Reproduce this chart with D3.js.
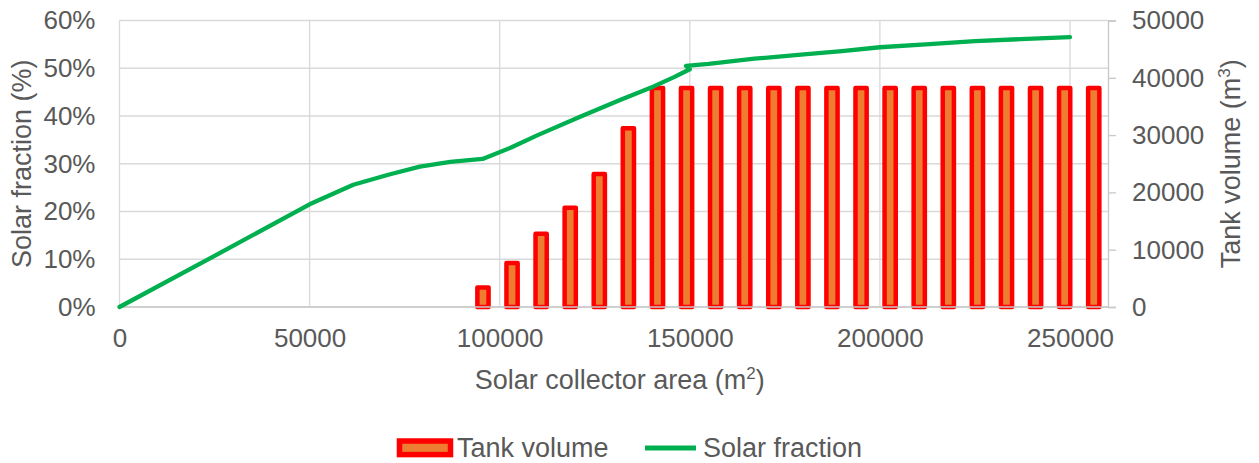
<!DOCTYPE html>
<html lang="en">
<head>
	<meta charset="UTF-8">
	<title>Solar fraction and tank volume</title>
	<script src="https://d3js.org/d3.v7.min.js"></script>
	<style>
		body{
			margin: 0;
			background: #fff;
			font-family: "Liberation Sans", Arial, sans-serif;
		}
		svg text{
			fill: #595959;
		}
	</style>
</head>
<body>
	<div id="chart"></div>
	<script>
		// solar fraction curve (collector area m2 -> %)
		var sfArea = [0, 25000, 50000, 61500, 70700, 79000, 87000, 95500, 103000, 110000, 121000, 131500, 140500, 146000, 150000, 149000, 155000, 167000, 180000, 190000, 200000, 212000, 225000, 237000, 250000];
		var sfValue = [0, 10.7, 21.5, 25.6, 27.7, 29.4, 30.4, 31.0, 33.4, 36.0, 39.8, 43.3, 46.2, 48.2, 49.8, 50.5, 50.9, 52.0, 52.9, 53.6, 54.4, 55.0, 55.7, 56.1, 56.5];

		// tank volume bars (collector area m2 -> m3)
		var tankArea = [95600, 103250, 110900, 118550, 126200, 133850, 141500, 149150, 156800, 164450, 172100, 179750, 187400, 195050, 202700, 210350, 218000, 225650, 233300, 240950, 248600, 256250];
		var tankVolume = [3400, 7700, 12800, 17300, 23200, 31200, 38200, 38200, 38200, 38200, 38200, 38200, 38200, 38200, 38200, 38200, 38200, 38200, 38200, 38200, 38200, 38200];

		var xTicks = [0, 50000, 100000, 150000, 200000, 250000];
		var yLeftTicks = [0, 10, 20, 30, 40, 50, 60];
		var yRightTicks = [0, 10000, 20000, 30000, 40000, 50000];

		var width = 1259, height = 463;
		var pLeft = 119.5, pRight = 1108, pTop = 20.5, pBottom = 307;
		var font = '"Liberation Sans", Arial, sans-serif';

		var svg = d3.select('#chart').append('svg')
			.attr('width', width)
			.attr('height', height);

		var x = d3.scaleLinear().domain([0, 260000]).range([pLeft, pRight]);
		var yL = d3.scaleLinear().domain([0, 60]).range([pBottom, pTop]);
		var yR = d3.scaleLinear().domain([0, 50000]).range([pBottom, pTop]);

		// gridlines
		svg.append('g').selectAll('line')
			.data(yLeftTicks).enter().append('line')
			.attr('x1', pLeft).attr('x2', pRight)
			.attr('y1', function(d){ return yL(d); })
			.attr('y2', function(d){ return yL(d); })
			.attr('stroke', '#d9d9d9').attr('stroke-width', 1.3);
		svg.append('g').selectAll('line')
			.data(xTicks).enter().append('line')
			.attr('x1', function(d){ return x(d); })
			.attr('x2', function(d){ return x(d); })
			.attr('y1', pTop).attr('y2', pBottom)
			.attr('stroke', '#d9d9d9').attr('stroke-width', 1.3);

		// bars
		var tank = tankArea.map(function(a, i){ return [a, tankVolume[i]]; });
		svg.append('g').selectAll('rect')
			.data(tank).enter().append('rect')
			.attr('x', function(d){ return x(d[0]) - 5.6; })
			.attr('width', 11.2)
			.attr('y', function(d){ return yR(d[1]); })
			.attr('height', function(d){ return yR(0) - yR(d[1]); })
			.attr('fill', '#ed7d31')
			.attr('stroke', '#ff0000')
			.attr('stroke-width', 4.5)
			.attr('stroke-linejoin', 'round');

		// bottom axis line and right axis
		svg.append('line')
			.attr('x1', pLeft).attr('x2', pRight)
			.attr('y1', pBottom).attr('y2', pBottom)
			.attr('stroke', '#c8c8c8').attr('stroke-width', 1.3);

		var rightAxis = d3.axisRight(yR).tickValues(yRightTicks).tickSize(8).tickPadding(16).tickFormat(d3.format('d'));
		var gR = svg.append('g').attr('transform', 'translate(' + pRight + ',0)').call(rightAxis);
		gR.select('.domain').attr('stroke', '#c8c8c8').attr('stroke-width', 1.3);
		gR.selectAll('.tick line').attr('stroke', '#c8c8c8').attr('stroke-width', 1.3);
		gR.selectAll('text').style('font-size', '26px').style('font-family', font).attr('fill', '#595959');

		var leftAxis = d3.axisLeft(yL).tickValues(yLeftTicks).tickSize(0).tickPadding(24).tickFormat(function(d){ return d + '%'; });
		var gL = svg.append('g').attr('transform', 'translate(' + pLeft + ',0)').call(leftAxis);
		gL.select('.domain').remove();
		gL.selectAll('text').style('font-size', '26px').style('font-family', font).attr('fill', '#595959');

		var bottomAxis = d3.axisBottom(x).tickValues(xTicks).tickSize(0).tickPadding(22).tickFormat(d3.format('d'));
		var gB = svg.append('g').attr('transform', 'translate(0,' + pBottom + ')').call(bottomAxis);
		gB.select('.domain').remove();
		gB.selectAll('text').style('font-size', '26px').style('font-family', font).attr('fill', '#595959');

		// solar fraction line
		var sf = sfArea.map(function(a, i){ return [a, sfValue[i]]; });
		var line = d3.line()
			.x(function(d){ return x(d[0]); })
			.y(function(d){ return yL(d[1]); });
		svg.append('path')
			.datum(sf)
			.attr('d', line)
			.attr('fill', 'none')
			.attr('stroke', '#00b050')
			.attr('stroke-width', 4.3)
			.attr('stroke-linejoin', 'round')
			.attr('stroke-linecap', 'round');

		// axis titles
		var xt = svg.append('text')
			.attr('x', (pLeft + pRight) / 2 + 6)
			.attr('y', 389)
			.attr('text-anchor', 'middle')
			.style('font-size', '27px');
		xt.append('tspan').text('Solar collector area (m');
		xt.append('tspan').attr('dy', -10).style('font-size', '17px').text('2');
		xt.append('tspan').attr('dy', 10).text(')');

		svg.append('text')
			.attr('transform', 'translate(31,' + ((pTop + pBottom) / 2) + ') rotate(-90)')
			.attr('text-anchor', 'middle')
			.style('font-size', '27px')
			.text('Solar fraction (%)');

		var rt = svg.append('text')
			.attr('transform', 'translate(1240,' + ((pTop + pBottom) / 2) + ') rotate(-90)')
			.attr('text-anchor', 'middle')
			.style('font-size', '27px');
		rt.append('tspan').text('Tank volume (m');
		rt.append('tspan').attr('dy', -10).style('font-size', '17px').text('3');
		rt.append('tspan').attr('dy', 10).text(')');

		// legend
		var lg = svg.append('g');
		lg.append('rect')
			.attr('x', 399.5).attr('y', 441).attr('width', 51).attr('height', 13.6)
			.attr('fill', '#ed7d31').attr('stroke', '#ff0000').attr('stroke-width', 5.5);
		lg.append('text').attr('x', 457).attr('y', 457).style('font-size', '27px').text('Tank volume');
		lg.append('line')
			.attr('x1', 645).attr('x2', 696).attr('y1', 448).attr('y2', 448)
			.attr('stroke', '#00b050').attr('stroke-width', 5);
		lg.append('text').attr('x', 703).attr('y', 457).style('font-size', '27px').text('Solar fraction');
	</script>
</body>
</html>
